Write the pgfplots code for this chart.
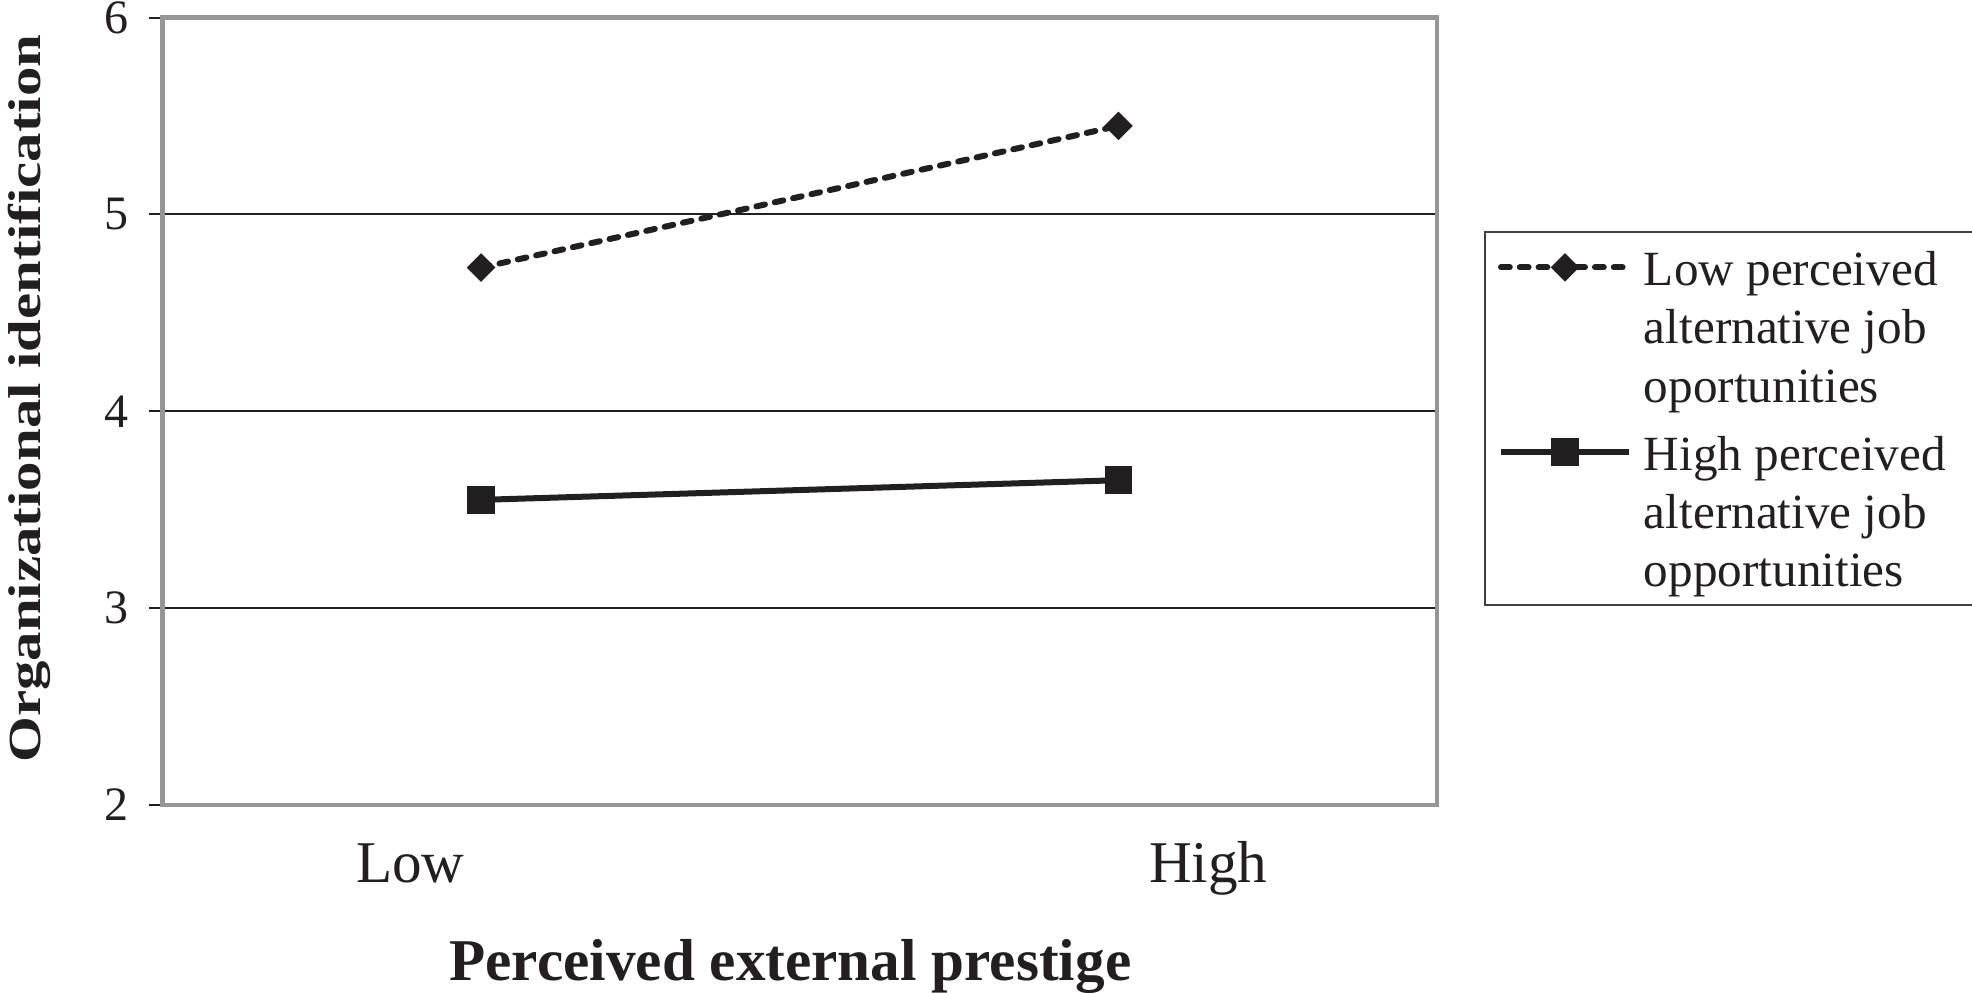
\documentclass[border=0pt]{standalone}
\usepackage{pgfplots}
\pgfplotsset{compat=1.18}
\usepackage{fontspec}
\setmainfont{Liberation Serif}
\definecolor{framegray}{RGB}{150,150,150}
\definecolor{ink}{RGB}{35,31,32}
\begin{document}
\begin{tikzpicture}
\path[use as bounding box] (-40.6pt,-47pt) rectangle (452.4pt,201.25pt);
\begin{axis}[
  scale only axis, width=318.7pt, height=196.85pt,
  xmin=-0.5, xmax=1.5, ymin=2, ymax=6,
  xtick={-0.111,1.141}, xticklabels={Low,High},
  ytick={2,3,4,5,6}, ytick pos=left,
  /pgf/number format/assume math mode=true,
  ymajorgrids, major grid style={draw=ink, line width=0.5pt},
  axis line style={draw=framegray, line width=1.1pt},
  tick align=outside,
  xtick style={draw=none},
  ytick style={draw=ink, line width=0.5pt},
  major tick length=3.25pt,
  xticklabel style={font=\fontsize{14.8}{17}\selectfont, anchor=base, yshift=-16.25pt, text=ink},
  yticklabel style={font=\fontsize{12}{14}\selectfont, anchor=east, inner sep=0pt, xshift=-5pt, text=ink},
  xlabel={Perceived external prestige},
  ylabel={\scalebox{1.28}[1]{Organizational identification}},
  xlabel style={font=\bfseries\fontsize{14.8}{17}\selectfont, at={(axis description cs:0.4926,-0.223)}, anchor=base, text=ink},
  ylabel style={font=\bfseries\fontsize{11.5}{14}\selectfont, at={(axis description cs:-0.096,0.516)}, anchor=base, text=ink},
  legend style={at={(axis description cs:1.0367,0.7292)}, anchor=north west, draw=black!75, line width=0.5pt,
    font=\fontsize{12.3}{14.6}\selectfont, text=ink, inner xsep=8pt, inner ysep=4.6pt, row sep=8.2pt,
    nodes={inner sep=0pt, text depth=0pt, text height=},
    cells={align=left, anchor=north west}},
  legend image code/.code={%
    \draw[overlay,mark repeat=2,mark phase=2,#1] plot coordinates {(-4pt,-4.3pt) (12pt,-4.3pt) (28pt,-4.3pt)};
    \path[draw=none,fill=none] (0pt,0pt) rectangle (31.75pt,-7.7pt);},
]
\addplot[ink, line width=1.5pt, dash pattern=on 2.2pt off 2.5pt, line cap=round,
  mark=square*, mark size=2.37pt, mark options={rotate=45, solid, fill=ink, line width=0.3pt}]
  coordinates {(0,4.73) (1,5.45)};
\addlegendentry{Low perceived\\alternative job\\oportunities}
\addplot[ink, line width=1.5pt,
  mark=square*, mark size=3.3pt, mark options={solid, fill=ink, line width=0.3pt}]
  coordinates {(0,3.55) (1,3.65)};
\addlegendentry{High perceived\\alternative job\\opportunities}
\end{axis}
\end{tikzpicture}
\end{document}
